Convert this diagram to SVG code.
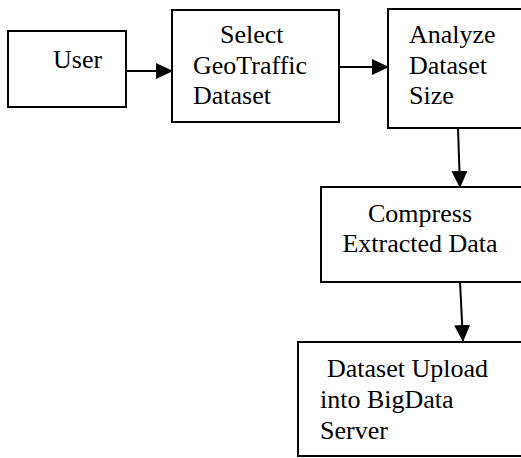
<svg xmlns="http://www.w3.org/2000/svg" width="521" height="458" viewBox="0 0 521 458">
  <style>
    .box { fill: #fff; stroke: #000; stroke-width: 2; }
    .lbl { font-family: "Liberation Serif", "Times New Roman", serif; font-size: 26px; fill: #000; }
    .conn { stroke: #000; stroke-width: 2; fill: none; }
  </style>
  <defs>
    <marker id="arrow" markerWidth="10" markerHeight="10" refX="9" refY="5" orient="auto" markerUnits="userSpaceOnUse" viewBox="0 0 10 10">
      <path d="M0,0 L10,5 L0,10 Z" fill="#000"/>
    </marker>
    <marker id="arrowBig" markerWidth="17" markerHeight="16" refX="16" refY="8" orient="auto" markerUnits="userSpaceOnUse" viewBox="0 0 17 16">
      <path d="M0,0 L17,8 L0,16 Z" fill="#000"/>
    </marker>
  </defs>

  <g id="user">
    <rect class="box" x="8" y="31" width="118" height="76"/>
    <text class="lbl" x="53" y="68">User</text>
  </g>

  <g id="select">
    <rect class="box" x="172" y="10" width="167" height="112"/>
    <text class="lbl" x="220" y="43">Select</text>
    <text class="lbl" x="193" y="74">GeoTraffic</text>
    <text class="lbl" x="193" y="104">Dataset</text>
  </g>

  <g id="analyze">
    <rect class="box" x="388" y="9" width="140" height="119"/>
    <text class="lbl" x="409" y="43">Analyze</text>
    <text class="lbl" x="409" y="74">Dataset</text>
    <text class="lbl" x="409" y="104">Size</text>
  </g>

  <g id="compress">
    <rect class="box" x="321" y="187" width="210" height="95"/>
    <text class="lbl" x="420" y="222" text-anchor="middle">Compress</text>
    <text class="lbl" x="420" y="252" text-anchor="middle">Extracted Data</text>
  </g>

  <g id="upload">
    <rect class="box" x="298" y="342" width="233" height="114"/>
    <text class="lbl" x="327" y="377">Dataset Upload</text>
    <text class="lbl" x="320" y="408">into BigData</text>
    <text class="lbl" x="320" y="439">Server</text>
  </g>

  <g id="connectors">
    <line class="conn" x1="126" y1="71" x2="172" y2="71" marker-end="url(#arrowBig)"/>
    <line class="conn" x1="339" y1="67" x2="388" y2="67" marker-end="url(#arrowBig)"/>
    <line class="conn" x1="458" y1="128" x2="460" y2="187" marker-end="url(#arrowBig)"/>
    <line class="conn" x1="460" y1="282" x2="463" y2="341" marker-end="url(#arrowBig)"/>
  </g>
</svg>
